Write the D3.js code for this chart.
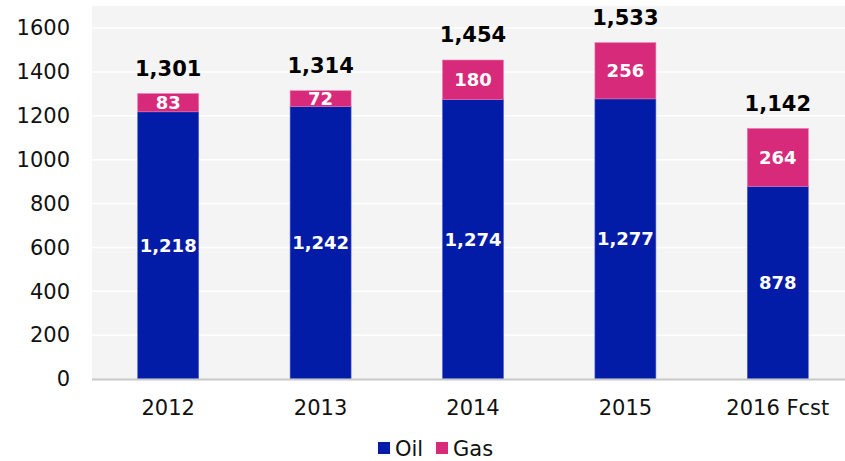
<!DOCTYPE html>
<html>
<head>
<meta charset="utf-8">
<script src="https://cdn.jsdelivr.net/npm/d3@7"></script>
<style>
  body { margin: 0; background: #fff; }
  text { font-family: "DejaVu Sans", Verdana, sans-serif; }
</style>
</head>
<body>
<div id="chart"></div>
<script>
// Oil & gas stacked columns
const years = ['2012', '2013', '2014', '2015', '2016 Fcst'];
const oil = [1218, 1242, 1274, 1277, 878];
const gas = [83, 72, 180, 256, 264];
const totals = [1301, 1314, 1454, 1533, 1142];
const yTicks = [0, 200, 400, 600, 800, 1000, 1200, 1400, 1600];

const width = 845, height = 461;
const plot = { left: 92, right: 854, top: 6, bottom: 379 };

const colors = { Oil: '#021ca8', Gas: '#d82a7a' };
const fmt = d3.format(',');

const svg = d3.select('#chart').append('svg')
    .attr('width', width)
    .attr('height', height);

const x = d3.scaleBand()
    .domain(years)
    .range([plot.left, plot.right])
    .paddingInner(0.6)
    .paddingOuter(0.3);

// 1600 sits at y=28
const y = d3.scaleLinear()
    .domain([0, 1600])
    .range([plot.bottom, 28]);

// plot background
svg.append('rect')
    .attr('x', plot.left)
    .attr('y', plot.top)
    .attr('width', width - plot.left)
    .attr('height', plot.bottom - plot.top)
    .attr('fill', '#f4f4f4');

// gridlines
svg.append('g')
    .selectAll('line')
    .data(yTicks.filter(d => d > 0))
    .enter()
    .append('line')
    .attr('x1', plot.left)
    .attr('x2', width)
    .attr('y1', d => y(d))
    .attr('y2', d => y(d))
    .attr('stroke', '#fff')
    .attr('stroke-width', 1.5);

// y tick labels
svg.append('g')
    .selectAll('text')
    .data(yTicks)
    .enter()
    .append('text')
    .attr('x', 70)
    .attr('y', d => y(d))
    .attr('dy', '0.35em')
    .attr('text-anchor', 'end')
    .attr('font-size', '21px')
    .attr('fill', '#111')
    .text(d => d);

const rows = years.map((yr, i) => ({ year: yr, oil: oil[i], gas: gas[i], total: totals[i] }));

// oil segments
svg.append('g')
    .selectAll('rect')
    .data(rows)
    .enter()
    .append('rect')
    .attr('x', d => x(d.year))
    .attr('width', x.bandwidth())
    .attr('y', d => y(d.oil))
    .attr('height', d => y(0) - y(d.oil))
    .attr('fill', colors.Oil)
    .attr('stroke', '#4a5fd0')
    .attr('stroke-width', 0.6);

// gas segments
svg.append('g')
    .selectAll('rect')
    .data(rows)
    .enter()
    .append('rect')
    .attr('x', d => x(d.year))
    .attr('width', x.bandwidth())
    .attr('y', d => y(d.oil + d.gas))
    .attr('height', d => y(d.oil) - y(d.oil + d.gas))
    .attr('fill', colors.Gas)
    .attr('stroke', '#e978ac')
    .attr('stroke-width', 0.6);

// baseline
svg.append('line')
    .attr('x1', plot.left)
    .attr('x2', width)
    .attr('y1', plot.bottom + 0.5)
    .attr('y2', plot.bottom + 0.5)
    .attr('stroke', '#c8c8c8')
    .attr('stroke-width', 2);

// inner labels
const inner = svg.append('g')
    .attr('font-size', '18px')
    .attr('font-weight', 'bold')
    .attr('fill', '#fff')
    .attr('text-anchor', 'middle');

inner.selectAll('.oil-lbl')
    .data(rows)
    .enter()
    .append('text')
    .attr('x', d => x(d.year) + x.bandwidth() / 2)
    .attr('y', d => y(d.oil / 2))
    .attr('dy', '0.35em')
    .text(d => fmt(d.oil));

inner.selectAll('.gas-lbl')
    .data(rows)
    .enter()
    .append('text')
    .attr('x', d => x(d.year) + x.bandwidth() / 2)
    .attr('y', d => y(d.oil + d.gas / 2))
    .attr('dy', '0.35em')
    .text(d => fmt(d.gas));

// totals above bars
svg.append('g')
    .selectAll('text')
    .data(rows)
    .enter()
    .append('text')
    .attr('x', d => x(d.year) + x.bandwidth() / 2)
    .attr('y', d => y(d.total) - 25)
    .attr('dy', '0.35em')
    .attr('text-anchor', 'middle')
    .attr('font-size', '21px')
    .attr('font-weight', 'bold')
    .attr('fill', '#000')
    .text(d => fmt(d.total));

// x labels
svg.append('g')
    .selectAll('text')
    .data(years)
    .enter()
    .append('text')
    .attr('x', d => x(d) + x.bandwidth() / 2)
    .attr('y', 408)
    .attr('dy', '0.35em')
    .attr('text-anchor', 'middle')
    .attr('font-size', '21px')
    .attr('fill', '#111')
    .text(d => d);

// legend
const legend = svg.append('g');
const items = [
    { name: 'Oil', x: 378 },
    { name: 'Gas', x: 436 }
];
legend.selectAll('rect')
    .data(items)
    .enter()
    .append('rect')
    .attr('x', d => d.x)
    .attr('y', 442)
    .attr('width', 12)
    .attr('height', 12)
    .attr('fill', d => colors[d.name]);
legend.selectAll('text')
    .data(items)
    .enter()
    .append('text')
    .attr('x', d => d.x + 17)
    .attr('y', 449)
    .attr('dy', '0.35em')
    .attr('font-size', '21px')
    .attr('fill', '#111')
    .text(d => d.name);
</script>
</body>
</html>
